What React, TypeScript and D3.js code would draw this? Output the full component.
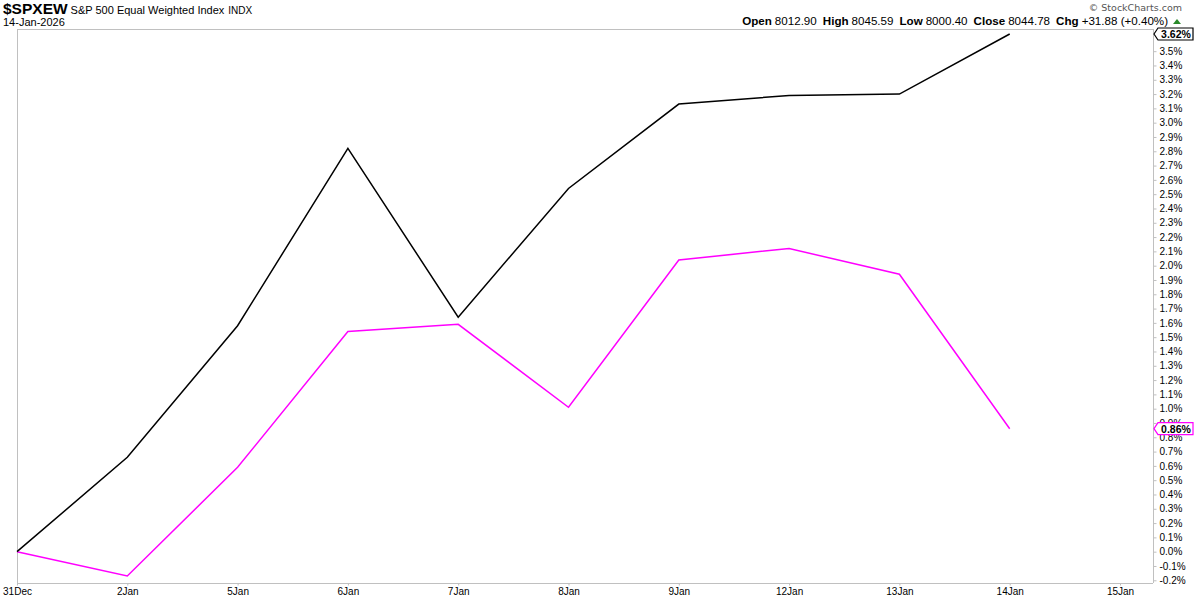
import { useEffect, useRef } from 'react';
import * as d3 from 'd3';

const dates = ['31Dec', '2Jan', '5Jan', '6Jan', '7Jan', '8Jan', '9Jan', '12Jan', '13Jan', '14Jan', '15Jan'];
const spxew = [0.0, 0.66, 1.58, 2.82, 1.64, 2.54, 3.13, 3.19, 3.2, 3.62];
const second = [0.0, -0.17, 0.59, 1.54, 1.59, 1.01, 2.04, 2.12, 1.94, 0.86];
const yTicks = [-0.2, -0.1, 0, 0.1, 0.2, 0.3, 0.4, 0.5, 0.6, 0.7, 0.8, 0.9, 1.0, 1.1, 1.2, 1.3, 1.4, 1.5, 1.6, 1.7, 1.8, 1.9, 2.0, 2.1, 2.2, 2.3, 2.4, 2.5, 2.6, 2.7, 2.8, 2.9, 3.0, 3.1, 3.2, 3.3, 3.4, 3.5];
const quote = [
  ['Open', '8012.90'],
  ['High', '8045.59'],
  ['Low', '8000.40'],
  ['Close', '8044.78'],
  ['Chg', '+31.88 (+0.40%)'],
];

const W = 1200;
const H = 600;
const FONT = '"Liberation Sans", Arial, sans-serif';

export default function App() {
  const svgRef = useRef<SVGSVGElement>(null);

  useEffect(() => {
    if (!svgRef.current) return;
    const svg = d3.select(svgRef.current);
    svg.selectAll('*').remove();

    const left = 17, right = 1153, top = 29, bottom = 583;

    const x = d3.scaleLinear().domain([0, 10]).range([left, 1120]);
    const y = d3.scaleLinear().domain([-0.219, 3.655]).range([bottom, top]);

    // frame
    svg.append('line').attr('x1', left).attr('x2', right).attr('y1', top + 0.5).attr('y2', top + 0.5).attr('stroke', '#c0c0c0');
    svg.append('line').attr('x1', left + 0.5).attr('x2', left + 0.5).attr('y1', top).attr('y2', bottom).attr('stroke', '#c0c0c0');

    // right axis
    const yAxis = svg.append('g')
      .attr('transform', `translate(${right + 0.5},0)`)
      .call(d3.axisRight(y).tickValues(yTicks).tickSize(3).tickPadding(3).tickFormat(d => `${(+d).toFixed(1)}%`));
    yAxis.select('.domain').attr('stroke', '#c0c0c0').attr('d', `M0,${top}V${bottom}`);
    yAxis.selectAll('.tick line').attr('stroke', '#c0c0c0');
    yAxis.selectAll('.tick text').attr('font-family', FONT).attr('font-size', 10).attr('fill', '#000');

    // bottom axis
    const xAxis = svg.append('g')
      .attr('transform', `translate(0,${bottom + 0.5})`)
      .call(d3.axisBottom(x).tickValues(d3.range(dates.length)).tickSize(2).tickPadding(2).tickFormat(i => dates[+i]));
    xAxis.select('.domain').attr('stroke', '#c0c0c0').attr('d', `M${left},0H${right}`);
    xAxis.selectAll('.tick line').attr('stroke', '#c0c0c0');
    xAxis.selectAll('.tick text').attr('font-family', FONT).attr('font-size', 10).attr('fill', '#000');

    const line = d3.line<number>().x((_, i) => x(i)).y(d => y(d));

    svg.append('path').datum(second).attr('fill', 'none').attr('stroke', '#ff00ff').attr('stroke-width', 1.5).attr('d', line);
    svg.append('path').datum(spxew).attr('fill', 'none').attr('stroke', '#000').attr('stroke-width', 1.5).attr('d', line);

    // last value labels
    const tag = (v: number, color: string) => {
      const cy = y(v);
      const g = svg.append('g');
      g.append('path')
        .attr('d', `M${right + 1},${cy} L${right + 5},${cy - 6} H${right + 40} V${cy + 6} H${right + 5} Z`)
        .attr('fill', '#fff').attr('stroke', color).attr('stroke-width', 1.2);
      g.append('text').attr('x', right + 23).attr('y', cy + 4).attr('text-anchor', 'middle')
        .attr('font-family', FONT).attr('font-size', 10.5).attr('font-weight', 'bold').attr('fill', '#000')
        .text(`${v.toFixed(2)}%`);
    };
    tag(second[second.length - 1], '#ff00ff');
    tag(spxew[spxew.length - 1], '#000');

    // header
    const t = svg.append('text').attr('x', 3).attr('y', 14).attr('font-family', FONT).attr('fill', '#000');
    t.append('tspan').attr('font-size', 15.5).attr('font-weight', 'bold').text('$SPXEW');
    t.append('tspan').attr('font-size', 11).attr('dx', 3).text('S&P 500 Equal Weighted Index');
    t.append('tspan').attr('font-size', 10).attr('dx', 4).text('INDX');
    svg.append('text').attr('x', 3).attr('y', 26).attr('font-family', FONT).attr('font-size', 11).text('14-Jan-2026');

    svg.append('text').attr('x', 1182).attr('y', 11).attr('text-anchor', 'end')
      .attr('font-family', '"DejaVu Sans", sans-serif').attr('font-size', 9.5).attr('fill', '#555')
      .text('\u00a9 StockCharts.com');

    const q = svg.append('text').attr('x', 1168).attr('y', 25).attr('text-anchor', 'end')
      .attr('font-family', FONT).attr('font-size', 11.6).attr('fill', '#000');
    quote.forEach(([k, v], i) => {
      q.append('tspan').attr('font-weight', 'bold').attr('dx', i === 0 ? 0 : 6).text(k);
      q.append('tspan').attr('dx', 3).text(v);
    });
    svg.append('path').attr('d', 'M1173,24 L1177,19 L1181,24 Z').attr('fill', '#2a8a2a');
  }, []);

  return (
    <div style={{ position: 'absolute', left: 0, top: 0, width: W, height: H, background: '#fff' }}>
      <svg ref={svgRef} width={W} height={H} style={{ display: 'block' }} />
    </div>
  );
}
